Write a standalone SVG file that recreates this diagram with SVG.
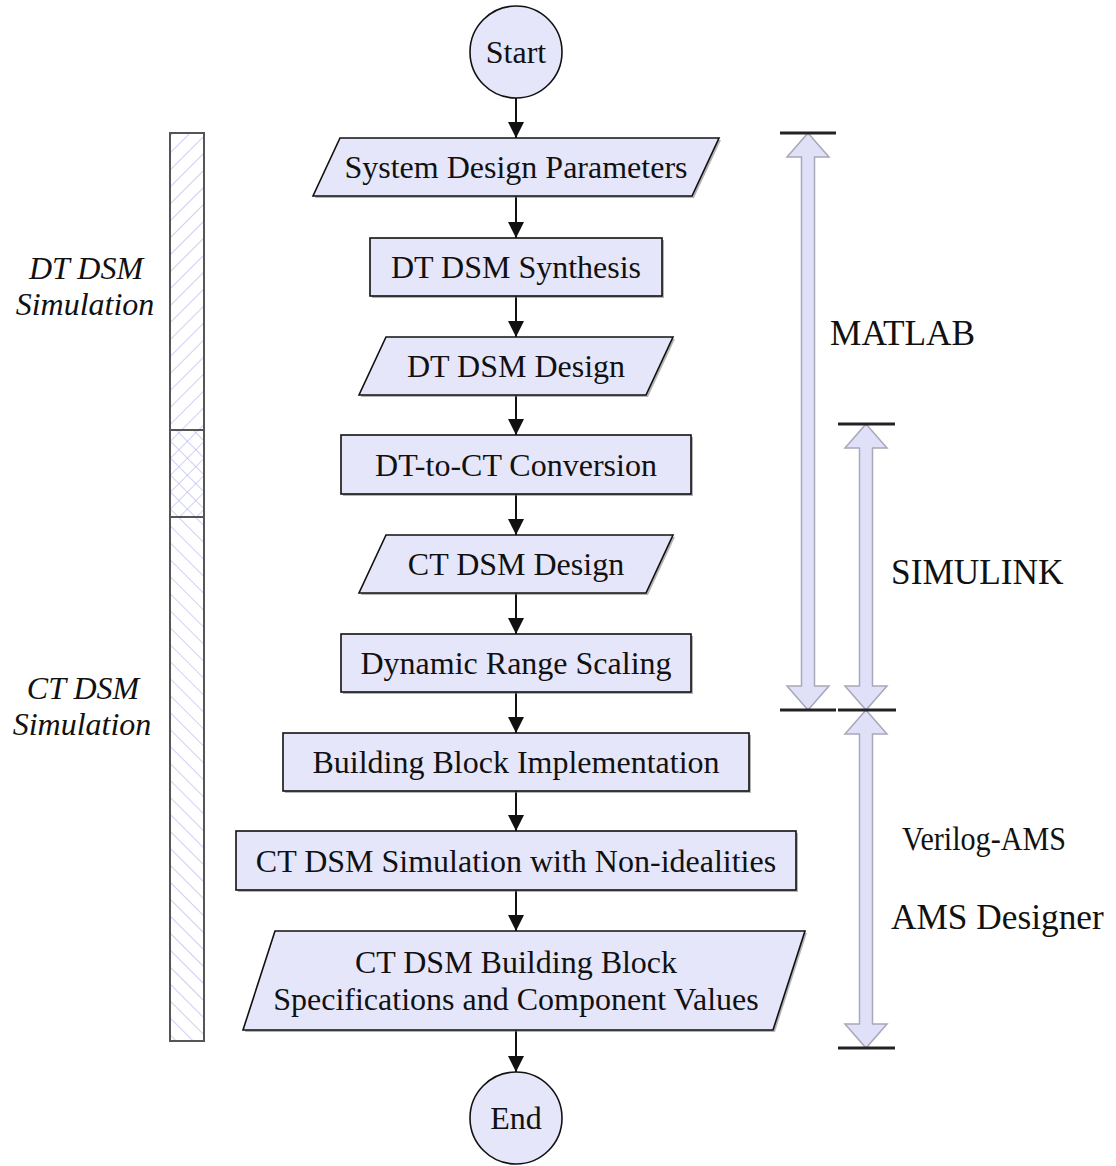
<svg xmlns="http://www.w3.org/2000/svg" width="1116" height="1166" viewBox="0 0 1116 1166">
<style>
.n{fill:#e6e6fa;stroke:#111;stroke-width:1.6}
.sh{fill:#777;opacity:0.55}
.t{font-family:'Liberation Serif','DejaVu Serif',serif;font-size:32px;fill:#111;text-anchor:middle}
.lb{font-family:'Liberation Serif','DejaVu Serif',serif;font-size:35.3px;fill:#111}
.it{font-family:'Liberation Serif','DejaVu Serif',serif;font-size:32px;font-style:italic;fill:#111;text-anchor:middle}
.e{stroke:#111;stroke-width:2;fill:none;marker-end:url(#ah)}
.ba{fill:#e0e0f8;stroke:#a8a8b8;stroke-width:1.5}
.bar{stroke:#222;stroke-width:3}
</style>
<defs>
<marker id="ah" viewBox="0 0 16 22" refX="16" refY="8" markerWidth="16" markerHeight="22" markerUnits="userSpaceOnUse" orient="auto">
<path d="M0,0 L22,8 L0,16 Z" fill="#111" transform="scale(0.73,1)"/>
</marker>
<pattern id="hf" patternUnits="userSpaceOnUse" width="12" height="12" patternTransform="rotate(45)">
<line x1="0" y1="0" x2="0" y2="12" stroke="#b4b4f0" stroke-width="1.3"/>
</pattern>
<pattern id="hb" patternUnits="userSpaceOnUse" width="12" height="12" patternTransform="rotate(-45)">
<line x1="0" y1="0" x2="0" y2="12" stroke="#b4b4f0" stroke-width="1.3"/>
</pattern>
</defs>

<g id="sidebar">
<rect x="170" y="133" width="34" height="297" fill="url(#hf)"/>
<rect x="170" y="430" width="34" height="87" fill="url(#hf)"/>
<rect x="170" y="430" width="34" height="87" fill="url(#hb)"/>
<rect x="170" y="517" width="34" height="524" fill="url(#hb)"/>
<rect x="170" y="133" width="34" height="908" fill="none" stroke="#555" stroke-width="2"/>
<line x1="170" y1="430" x2="204" y2="430" stroke="#555" stroke-width="2"/>
<line x1="170" y1="517" x2="204" y2="517" stroke="#555" stroke-width="2"/>
<text class="it" x="86" y="279">DT DSM</text>
<text class="it" x="85" y="315">Simulation</text>
<text class="it" x="83" y="699">CT DSM</text>
<text class="it" x="82" y="735">Simulation</text>
</g>

<g id="tools">
<path class="ba" d="M808,133 L829,157 L814.5,157 L814.5,686 L829,686 L808,710 L787,686 L801.5,686 L801.5,157 L787,157 Z"/>
<path class="ba" d="M866,424 L887,448 L872.5,448 L872.5,686 L887,686 L866,710 L845,686 L859.5,686 L859.5,448 L845,448 Z"/>
<path class="ba" d="M866,710 L887,734 L872.5,734 L872.5,1024 L887,1024 L866,1048 L845,1024 L859.5,1024 L859.5,734 L845,734 Z"/>
<line class="bar" x1="780" y1="133" x2="836" y2="133"/>
<line class="bar" x1="780" y1="710" x2="836" y2="710"/>
<line class="bar" x1="838" y1="424" x2="895" y2="424"/>
<line class="bar" x1="838" y1="710" x2="896" y2="710"/>
<line class="bar" x1="838" y1="1048" x2="895" y2="1048"/>
<text class="lb" x="830" y="345">MATLAB</text>
<text class="lb" x="891" y="584">SIMULINK</text>
<text class="lb" x="902" y="850" style="font-size:34px" textLength="164" lengthAdjust="spacingAndGlyphs">Verilog-AMS</text>
<text class="lb" x="891" y="929">AMS Designer</text>
</g>

<g id="connectors">
<line class="e" x1="516" y1="98" x2="516" y2="138"/>
<line class="e" x1="516" y1="196" x2="516" y2="238"/>
<line class="e" x1="516" y1="296" x2="516" y2="337"/>
<line class="e" x1="516" y1="395" x2="516" y2="435"/>
<line class="e" x1="516" y1="494" x2="516" y2="535"/>
<line class="e" x1="516" y1="593" x2="516" y2="634"/>
<line class="e" x1="516" y1="692" x2="516" y2="733"/>
<line class="e" x1="516" y1="791" x2="516" y2="831"/>
<line class="e" x1="516" y1="890" x2="516" y2="931"/>
<line class="e" x1="516" y1="1030" x2="516" y2="1072"/>
</g>

<g id="start">
<circle class="n" cx="516" cy="52" r="46"/>
<text class="t" x="516" y="63">Start</text>
</g>
<g id="sdp">
<polygon class="sh" points="342,140 721,140 694,198 315,198"/>
<polygon class="n" points="340,138 719,138 692,196 313,196"/>
<text class="t" x="516" y="178">System Design Parameters</text>
</g>
<g id="synth">
<rect class="sh" x="372" y="240" width="292" height="58"/>
<rect class="n" x="370" y="238" width="292" height="58"/>
<text class="t" x="516" y="278">DT DSM Synthesis</text>
</g>
<g id="dtdesign">
<polygon class="sh" points="388,339 675,339 648,397 361,397"/>
<polygon class="n" points="386,337 673,337 646,395 359,395"/>
<text class="t" x="516" y="377">DT DSM Design</text>
</g>
<g id="conv">
<rect class="sh" x="343" y="437" width="350" height="59"/>
<rect class="n" x="341" y="435" width="350" height="59"/>
<text class="t" x="516" y="476">DT-to-CT Conversion</text>
</g>
<g id="ctdesign">
<polygon class="sh" points="388,537 675,537 648,595 361,595"/>
<polygon class="n" points="386,535 673,535 646,593 359,593"/>
<text class="t" x="516" y="575">CT DSM Design</text>
</g>
<g id="drs">
<rect class="sh" x="343" y="636" width="350" height="58"/>
<rect class="n" x="341" y="634" width="350" height="58"/>
<text class="t" x="516" y="674">Dynamic Range Scaling</text>
</g>
<g id="bbi">
<rect class="sh" x="285" y="735" width="466" height="58"/>
<rect class="n" x="283" y="733" width="466" height="58"/>
<text class="t" x="516" y="773">Building Block Implementation</text>
</g>
<g id="ctsim">
<rect class="sh" x="238" y="833" width="560" height="59"/>
<rect class="n" x="236" y="831" width="560" height="59"/>
<text class="t" x="516" y="872">CT DSM Simulation with Non-idealities</text>
</g>
<g id="spec">
<polygon class="sh" points="277,933 807,933 775,1032 245,1032"/>
<polygon class="n" points="275,931 805,931 773,1030 243,1030"/>
<text class="t" x="516" y="973">CT DSM Building Block</text>
<text class="t" x="516" y="1010">Specifications and Component Values</text>
</g>
<g id="end">
<circle class="n" cx="516" cy="1118" r="46"/>
<text class="t" x="516" y="1129">End</text>
</g>
</svg>
